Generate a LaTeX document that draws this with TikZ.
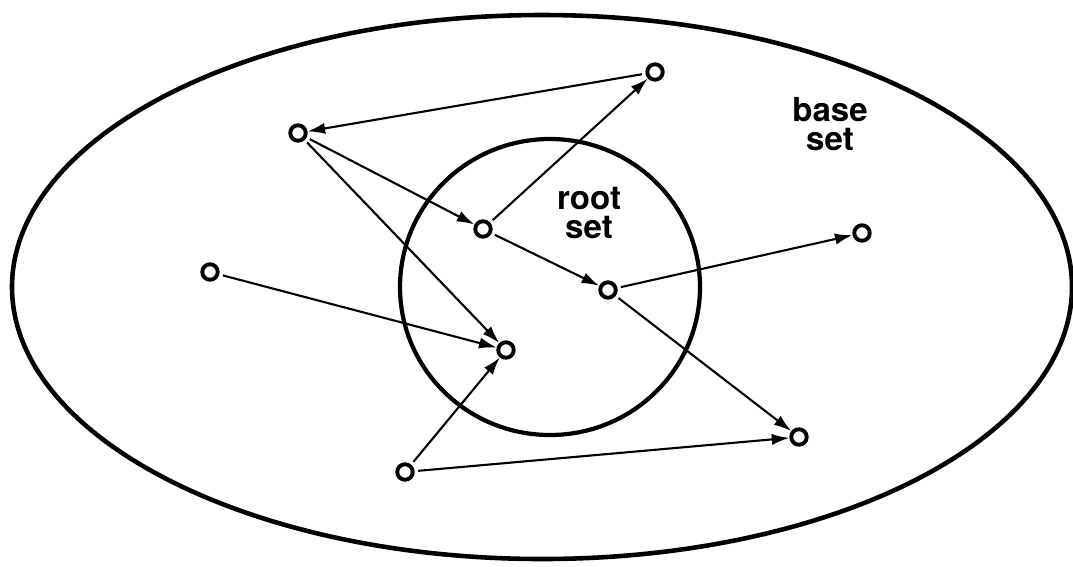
\documentclass[tikz,border=0pt]{standalone}
\usepackage{fontspec}
\setmainfont{TeX Gyre Heros}
\usetikzlibrary{arrows.meta}

\begin{document}
\begin{tikzpicture}[x=0.01cm,y=-0.01cm,
    vtx/.style={draw,circle,line width=1.1pt,minimum size=0.155cm,inner sep=0pt},
    lnk/.style={line width=0.6pt,-{Latex[length=5pt,width=3.2pt]},shorten <=1pt},
    lbl/.style={font=\fontsize{9.4}{8.4}\selectfont\bfseries,align=center}]
    \useasboundingbox (0,0) rectangle (1073,566);
    % Base set and root set
    \draw[line width=1.3pt] (542,287) ellipse [x radius=530,y radius=272];
    \draw[line width=1.2pt] (550,287) ellipse [x radius=150,y radius=148];
    \node[lbl] (root) at (589,213) {root\\set};
    \node[lbl] (base) at (830,124) {base\\set};
    % Pages
    \node[vtx] (a) at (655,72) {};
    \node[vtx] (b) at (298,133) {};
    \node[vtx] (c) at (483,229) {};
    \node[vtx] (d) at (862,233) {};
    \node[vtx] (e) at (608,290) {};
    \node[vtx] (f) at (210,272) {};
    \node[vtx] (g) at (506,350) {};
    \node[vtx] (h) at (799,437) {};
    \node[vtx] (i) at (405,472) {};
    % Links
    \draw[lnk] (a) -- (b);
    \draw[lnk] (b) -- (c);
    \draw[lnk] (b) -- (g);
    \draw[lnk] (c) -- (a);
    \draw[lnk] (c) -- (e);
    \draw[lnk] (e) -- (d);
    \draw[lnk] (e) -- (h);
    \draw[lnk] (f) -- (g);
    \draw[lnk] (i) -- (g);
    \draw[lnk] (i) -- (h);
\end{tikzpicture}
\end{document}
